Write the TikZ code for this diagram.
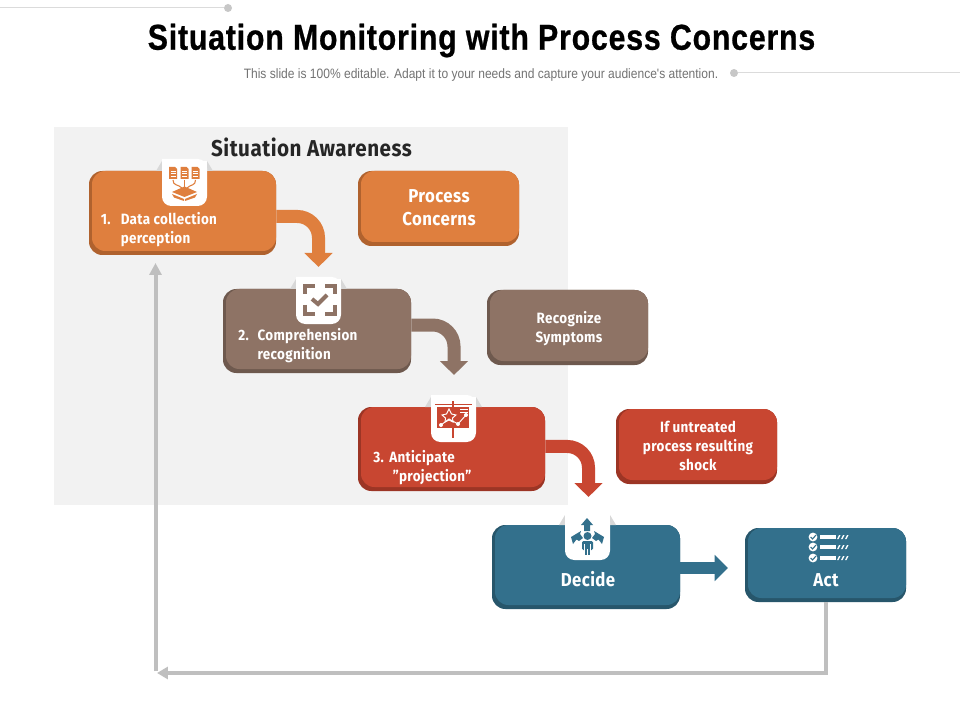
\documentclass[tikz,border=0pt]{standalone}
\usepackage{fontspec}
\setmainfont{Liberation Sans}
\newfontfamily\titlef[FakeStretch=0.84,LetterSpace=2.3,FakeBold=0.7]{Liberation Sans}
\newfontfamily\subf[FakeStretch=0.885]{Liberation Sans}
\newfontfamily\cardf[FakeStretch=0.9,LetterSpace=2.2]{Fira Sans}
\usetikzlibrary{arrows.meta,calc}
\definecolor{cO}{HTML}{DF7F3E}\definecolor{dO}{HTML}{B0622E}
\definecolor{cB}{HTML}{8E7365}\definecolor{dB}{HTML}{6E594E}
\definecolor{cR}{HTML}{C84631}\definecolor{dR}{HTML}{9C3525}
\definecolor{cT}{HTML}{33708C}\definecolor{dT}{HTML}{27566B}
\definecolor{panel}{HTML}{F2F2F2}
\definecolor{gline}{HTML}{BFBFBF}
\definecolor{fold}{HTML}{D8D8D8}
\tikzset{
 x=0.75pt,y=-0.75pt,
 cardbase/.style={rectangle,rounded corners=10pt,inner sep=0pt,draw=none},
 cardtext/.style={font=\cardf\bfseries\fontsize{11.2pt}{14.3pt}\selectfont,text=white,inner sep=0pt},
 bigtext/.style={font=\cardf\bfseries\fontsize{14pt}{17.2pt}\selectfont,text=white,inner sep=0pt,align=center},
 bent/.style={line width=9.75pt,rounded corners=16pt},
 loopline/.style={draw=gline,line width=3pt},
 deco/.style={draw=black!14,line width=0.75pt},
 dot/.style={circle,fill=black!22,inner sep=0pt,minimum size=6pt},
}
% name x1 y1 x2 y2 colour dark
\newcommand{\card}[7]{%
 \node[cardbase,fill=#7,minimum width={(#4-#2)*0.75pt},minimum height={(#5-#3)*0.75pt}] (#1) at ({(#2+#4)/2},{(#3+#5)/2}) {};
 \fill[#6,rounded corners=10pt] ({#2+3},#3) rectangle (#4,{#5-4});
}
% x1 y1: icon tab of 45 x 45 px
\newcommand{\tab}[2]{%
 \fill[fold] (#1,#2) -- ({#1-6},{#2+10}) -- (#1,{#2+10}) -- cycle;
 \fill[fold] ({#1+45},#2) -- ({#1+51},{#2+10}) -- ({#1+45},{#2+10}) -- cycle;
 \fill[white,rounded corners=7pt] (#1,{#2-2}) -- (#1,{#2+45}) -- ({#1+45},{#2+45}) -- ({#1+45},{#2-2}) [sharp corners] -- cycle;
 \fill[white] (#1,#2) rectangle ({#1+45},{#2+12});
}
\newcommand{\docicon}[1]{%
 \fill[cO] ({#1-4},167) -- ({#1+2},167) -- ({#1+4},169) -- ({#1+4},179) -- ({#1-4},179) -- cycle;
 \draw[white,line width=0.6pt] ({#1-2.5},171) -- ({#1+2.5},171) ({#1-2.5},173.5) -- ({#1+2.5},173.5) ({#1-2.5},176) -- ({#1+2.5},176);
}
\begin{document}
\begin{tikzpicture}
\useasboundingbox (0,0) rectangle (960,720);
\fill[white] (0,0) rectangle (960,720);
% header
\node[dot] (dotA) at (228,8) {};
\coordinate (decoA) at (0,8);
\draw[deco] (decoA) -- (dotA);
\node[dot] (dotB) at (734,73) {};
\coordinate (decoB) at (960,73);
\draw[deco] (dotB) -- (decoB);
\node[inner sep=0pt,font=\titlef\bfseries\fontsize{27pt}{30pt}\selectfont,text=black] (title) at (481.5,40.5) {Situation Monitoring with Process Concerns};
\node[inner sep=0pt,font=\subf\fontsize{10.2pt}{12pt}\selectfont,text=black!55] (sub) at (481,74.5) {This slide is 100\% editable. Adapt it to your needs and capture your audience's attention.};
% panel
\fill[panel] (54,127) rectangle (568,505);
\node[inner sep=0pt,font=\cardf\bfseries\fontsize{17.2pt}{20pt}\selectfont,text=black!85] (aware) at (311.5,147.5) {Situation Awareness};
% grey loop
\coordinate (loopA) at (157,673);
\coordinate (loopB) at (155.5,671);
\coordinate (loopC) at (155.5,263);
% cards
\card{b1}{89}{171}{276}{255}{cO}{dO}
\card{p1}{358}{171}{519}{246}{cO}{dO}
\card{b2}{223}{289}{411}{373}{cB}{dB}
\card{p2}{487}{290}{648}{365}{cB}{dB}
\card{b3}{358}{407}{545}{491}{cR}{dR}
\card{p3}{616}{409}{777}{484}{cR}{dR}
\card{b4}{492}{525}{680}{609}{cT}{dT}
\card{p4}{745}{528}{906}{602}{cT}{dT}
% arrows
\coordinate (t1) at (318.5,267);
\coordinate (t2) at (454,375);
\coordinate (t3) at (588.5,497);
\coordinate (t4) at (728,568);
\draw[bent,draw=cO,-{Triangle[length=10.5pt,width=20.5pt,fill=cO]}] ([yshift=-2.6pt]b1.east) -| (t1);
\draw[bent,draw=cB,-{Triangle[length=10.5pt,width=20.5pt,fill=cB]}] ([yshift=4.5pt]b2.east) -| (t2);
\draw[bent,draw=cR,-{Triangle[length=10.5pt,width=20.5pt,fill=cR]}] ([yshift=1.9pt]b3.east) -| (t3);
\draw[line width=9pt,draw=cT,-{Triangle[length=10pt,width=19pt,fill=cT]}] ([yshift=-0.75pt]b4.east) -- (t4);
\draw[loopline,-{Triangle[length=8.2pt,width=9pt,fill=gline]}] (p4.south) |- (loopA);
\draw[loopline,-{Triangle[length=9pt,width=9pt,fill=gline]}] (loopB) -- (loopC);
% tabs
\tab{162}{161}
\tab{296}{279}
\tab{431}{397}
\tab{565}{515}
% icon 1
\docicon{173}\docicon{184.5}\docicon{195.5}
\draw[cO,line width=0.8pt] (173,180) .. controls (173,186) and (178,184) .. (182,188);
\draw[cO,line width=0.8pt] (184.5,180) -- (184.5,189);
\draw[cO,line width=0.8pt] (195.5,180) .. controls (195.5,186) and (191,184) .. (187,188);
\fill[cO] (172,192) -- (184.5,186.5) -- (197,192) -- (184.5,197) -- cycle;
\fill[cO] (172,194) -- (184,199) -- (184,201) -- (174,197.5) -- cycle;
\fill[cO] (197,194) -- (185,199) -- (185,201) -- (195,197.5) -- cycle;
% icon 2
\draw[cB,line width=3.6pt] (305,294) -- (305,286) -- (315,286);
\draw[cB,line width=3.6pt] (325,286) -- (335,286) -- (335,294);
\draw[cB,line width=3.6pt] (305,305) -- (305,314) -- (315,314);
\draw[cB,line width=3.6pt] (325,314) -- (335,314) -- (335,305);
\draw[cB,line width=3pt] (312,299) -- (318,304) -- (327,295);
% icon 3
\fill[cR] (437,407) rectangle (469,428);
\draw[cR,line width=1.2pt] (435,404.5) -- (472,404.5);
\draw[cR,line width=1pt] (453,401) -- (453,407) (453,428) -- (453,438);
\draw[white,line width=0.7pt] (441,425) -- (449,419) -- (458,424) -- (466,415);
\fill[white] (441,425) circle (1.5pt) (458,424) circle (1.5pt) (466,415) circle (1.5pt);
\draw[white,line width=0.7pt] (449,409) -- (451.5,414) -- (456,415) -- (452.5,418) -- (453,422) -- (449,420) -- (445,422) -- (445.5,418) -- (442,415) -- (446.5,414) -- cycle;
\draw[white,line width=0.6pt] (460,409) -- (468,409) (460,412) -- (468,412);
% icon 4
\fill[cT] (587,518) -- (593,525) -- (590,525) -- (590,531) -- (584,531) -- (584,525) -- (581,525) -- cycle;
\fill[cT] (571,537) -- (581,531) -- (580,534) -- (583,538) -- (579,541) -- (576.5,539.5) -- (573,544) -- cycle;
\fill[cT] (604,537) -- (594,531) -- (595,534) -- (592,538) -- (596,541) -- (598.5,539.5) -- (602,544) -- cycle;
\fill[cT] (587.5,536) circle (3pt);
\fill[cT,rounded corners=1pt] (582,541) rectangle (593,550);
\fill[cT] (584,550) rectangle (591,555);
\draw[white,line width=0.5pt] (584.5,544) -- (584.5,555) (590.5,544) -- (590.5,555) (587.5,549) -- (587.5,555);
% icon 5
\foreach \yy in {537,547,558}{
 \fill[white] (813,\yy) circle (3.3pt);
 \draw[cT,line width=0.8pt] (810.5,\yy) -- (812.5,{\yy+2}) -- (816,{\yy-2});
 \fill[white] (820,{\yy-2}) rectangle (836,{\yy+2});
 \foreach \xx in {837,841,845}{\fill[white] (\xx,{\yy+2}) -- ({\xx+1.5},{\yy+2}) -- ({\xx+3.5},{\yy-2}) -- ({\xx+2},{\yy-2}) -- cycle;}
}
% texts
\node[cardtext,anchor=west,align=left] (lab1) at (100.5,229.5) {\makebox[15pt][l]{1.}Data collection\\\makebox[15pt][l]{}perception};
\node[cardtext,anchor=west,align=left] (lab2) at (238,345.5) {\makebox[14.5pt][l]{2.}Comprehension\\\makebox[14.5pt][l]{}recognition};
\node[cardtext,anchor=west,align=left] (lab3) at (373,467.5) {\makebox[12pt][l]{3.}Anticipate\\\makebox[12pt][l]{}\ ”projection”};
\node[bigtext] (lab4) at (439,208) {Process\\Concerns};
\node[cardtext,align=center] (lab5) at (569,328.5) {Recognize\\Symptoms};
\node[cardtext,align=center] (lab6) at (698,446) {If untreated\\process resulting\\shock};
\node[bigtext] (lab7) at (588,579.5) {Decide};
\node[bigtext] (lab8) at (826,580.5) {Act};
\end{tikzpicture}
\end{document}
